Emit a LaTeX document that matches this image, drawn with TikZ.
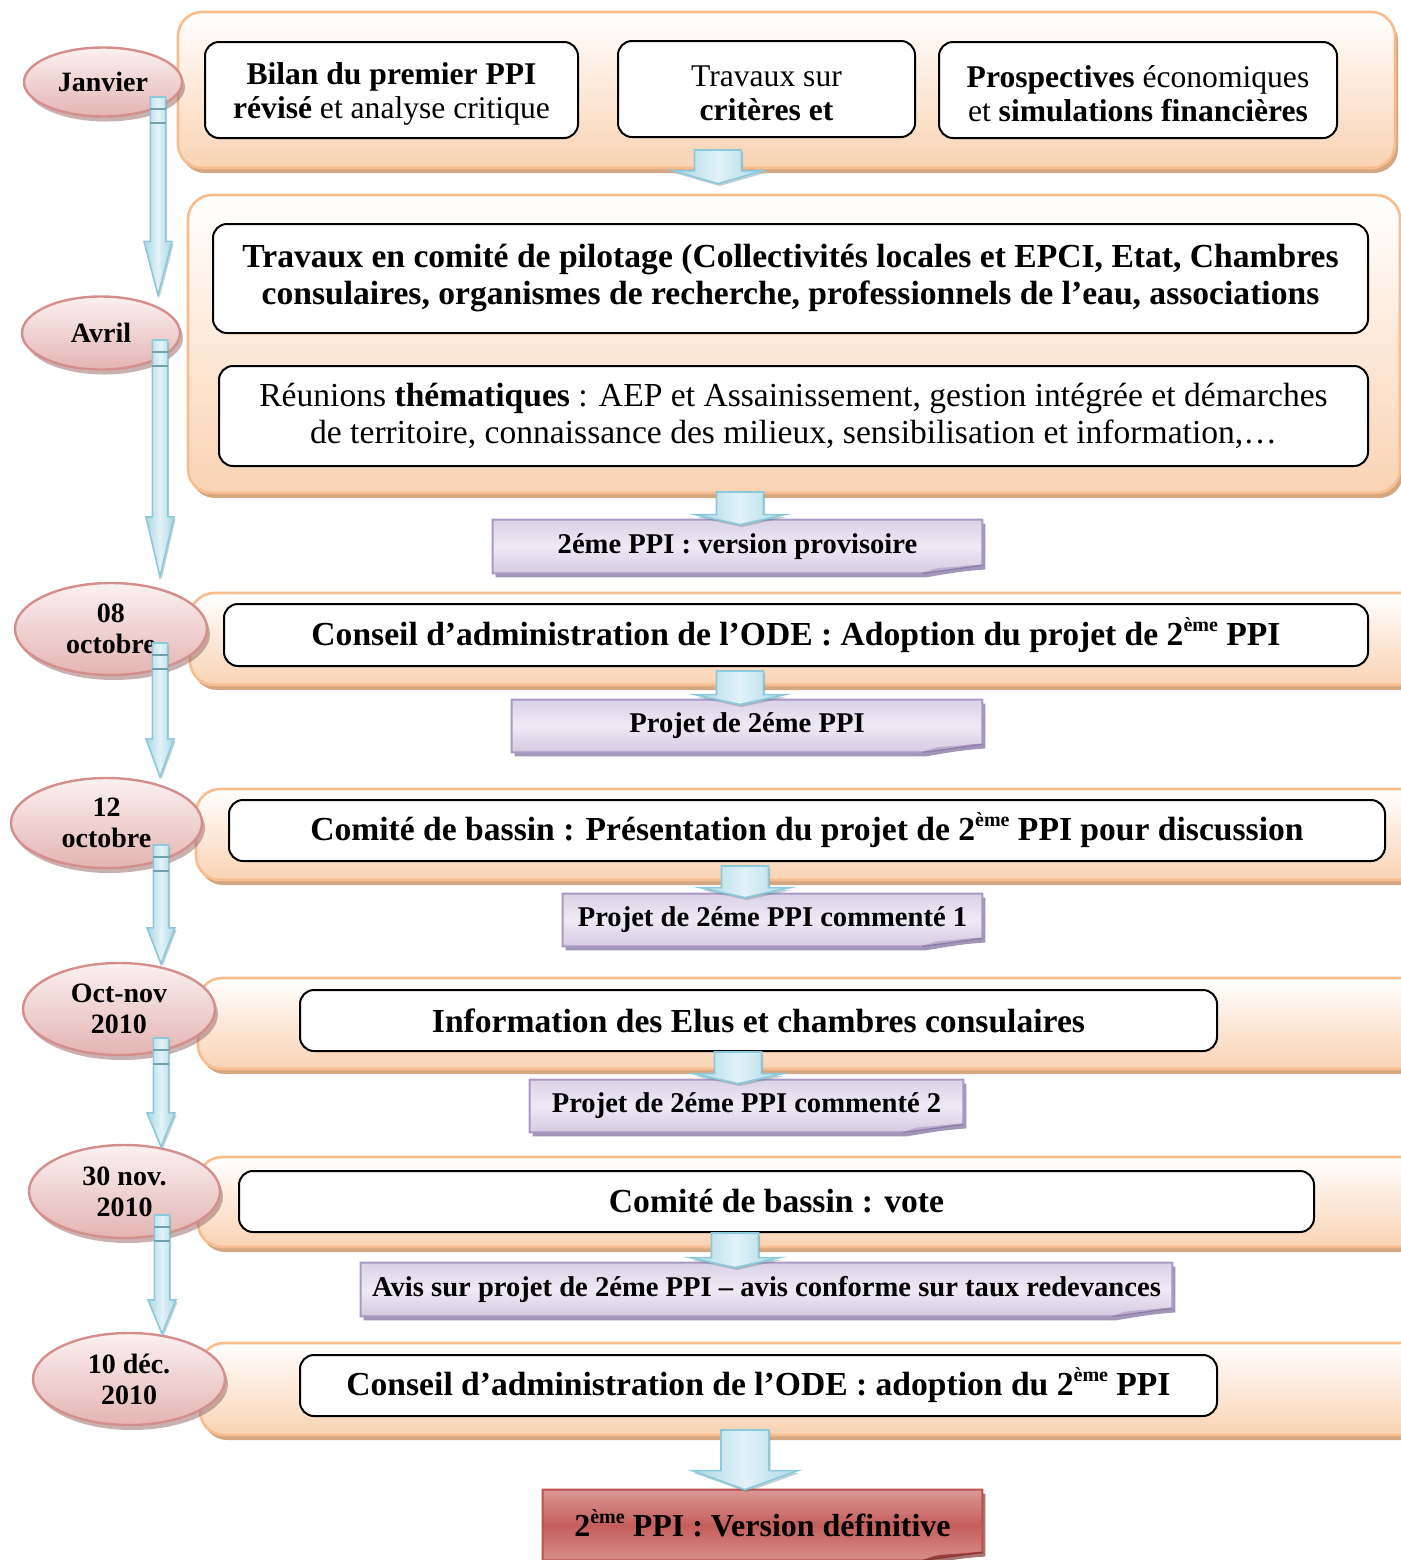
\documentclass[tikz,border=0pt]{standalone}
\usepackage{fontspec}
\setmainfont{Liberation Serif}
\usetikzlibrary{shadows,calc,shapes.geometric}
\pgfdeclarelayer{back}\pgfdeclarelayer{front}
\pgfsetlayers{back,main,front}
\definecolor{orBorder}{HTML}{F8BD8E}
\definecolor{orFill}{HTML}{FAD3B3}
\definecolor{orShadow}{HTML}{D3A782}
\definecolor{ellBorder}{HTML}{D48F8D}
\definecolor{ellTop}{HTML}{FBF1F1}
\definecolor{ellBot}{HTML}{E4B4B3}
\definecolor{purBorder}{HTML}{A999C4}
\definecolor{purTop}{HTML}{DAD2E6}
\definecolor{purMid}{HTML}{EEEAF4}
\definecolor{purBot}{HTML}{D4CAE2}
\definecolor{purShadow}{HTML}{8A7AA6}
\definecolor{redBorder}{HTML}{C0504D}
\definecolor{redTop}{HTML}{DB9896}
\definecolor{redMid}{HTML}{C55E5B}
\definecolor{redBot}{HTML}{D88D8B}
\definecolor{bluBorder}{HTML}{8CC9DA}
\definecolor{bluL}{HTML}{A9D8E5}
\definecolor{bluM}{HTML}{E2F2F7}
\newcommand\blockarrow[5]{%
  \path[bluearrow] let \p1=(#1), \p2=(#2) in
    (\x1-#3,\y1) -- (\x1+#3,\y1) -- (\x1+#3,\y2+#5) -- (\x1+#4,\y2+#5)
    -- (\x1,\y2) -- (\x1-#4,\y2+#5) -- (\x1-#3,\y2+#5) -- cycle;}
\newcommand\longarrow[3]{%
  \blockarrow{#1}{#2}{3.8pt}{7pt}{#3}%
  \draw[bluBorder!80!black,line width=0.6pt] let \p1=(#1) in
    (\x1-3.8pt,\y1-6pt) -- (\x1+3.8pt,\y1-6pt)
    (\x1-3.8pt,\y1-13pt) -- (\x1+3.8pt,\y1-13pt);}
\newcommand\bannershape[4]{%
  \begin{pgfonlayer}{back}
  \path[#2] (#1.north west) -- (#1.north east) -- ($(#1.south east)+(0,4pt)$)
     .. controls ($(#1.south east)+(-12pt,3pt)$) .. ($(#1.south east)+(-30pt,0)$)
     -- (#1.south west) -- cycle;
  \path[fill=#3] ($(#1.south east)+(0,4pt)$) -- ($(#1.south east)+(-30pt,0)$)
     .. controls ($(#1.south east)+(-24pt,2.5pt)$) .. ($(#1.south east)+(-18pt,3pt)$) -- cycle;
  \path[draw=#4,line width=0.6pt] ($(#1.south east)+(0,4pt)$) -- ($(#1.south east)+(-30pt,0)$);
  \end{pgfonlayer}}
\newcommand\sups[1]{\raisebox{0.42em}{\fontsize{10}{10}\selectfont #1}}
\begin{document}
\begin{tikzpicture}[x=0.5pt,y=-0.5pt,
  obox/.style={draw=orBorder,line width=1.3pt,rounded corners=12pt,
     top color=white,bottom color=orFill,shading angle=0,
     drop shadow={shadow xshift=1.5pt,shadow yshift=-2.5pt,fill=orShadow,opacity=1},
     inner sep=0pt},
  wbox/.style={draw=black,line width=1pt,fill=white,rounded corners=7pt,
     align=center,inner sep=0pt,font=\fontsize{15.8}{17}\selectfont},
  bigtxt/.style={font=\bfseries\fontsize{16.8}{18}\selectfont},
  ell/.style={ellipse,draw=ellBorder,line width=1.2pt,top color=ellTop,bottom color=ellBot,
     drop shadow={shadow xshift=1.5pt,shadow yshift=-2.5pt,fill=ellBorder!70!black,opacity=.5},
     align=center,inner sep=0pt,font=\bfseries\fontsize{14}{15.5}\selectfont},
  bantext/.style={inner sep=0pt,align=center,font=\bfseries\fontsize{14.3}{15}\selectfont},
  purban/.style={draw=purBorder,line width=1pt,top color=purTop,bottom color=purBot,middle color=purMid,
     drop shadow={shadow xshift=1.5pt,shadow yshift=-2pt,fill=purShadow,opacity=.8}},
  redban/.style={draw=redBorder,line width=1pt,top color=redTop,bottom color=redBot,middle color=redMid,
     drop shadow={shadow xshift=1.5pt,shadow yshift=-2pt,fill=redBorder!70!black,opacity=.7}},
  bluearrow/.style={draw=bluBorder,line width=0.8pt,left color=bluL,right color=bluL,middle color=bluM,
     drop shadow={shadow xshift=0.8pt,shadow yshift=-1.2pt,fill=bluBorder!60!black,opacity=.35}}]
\useasboundingbox (0,0) rectangle (1401,1560);
\clip (0,0) rectangle (1401,1560);
% orange frames
\node[obox,minimum width=608.5pt,minimum height=78pt] (o1) at (786.5,90) {};
\node[obox,minimum width=606pt,minimum height=149pt] (o2) at (794,344) {};
\node[obox,minimum width=618pt,minimum height=46pt] (o3) at (808,639) {};
\node[obox,minimum width=615pt,minimum height=45.5pt] (o4) at (811,834.5) {};
\node[obox,minimum width=614pt,minimum height=45.5pt] (o5) at (812,1023.5) {};
\node[obox,minimum width=614pt,minimum height=45pt] (o6) at (812,1202) {};
\node[obox,minimum width=613pt,minimum height=46pt] (o7) at (813,1389) {};
% white boxes
\node[wbox,minimum width=186.5pt,minimum height=48pt] (bilan) at (391.5,90) {};
\node[align=center,inner sep=0pt,font=\fontsize{15.8}{17}\selectfont] (bilant) at (391.5,94)
  {\textbf{Bilan du premier PPI}\\\textbf{révisé} et analyse critique};
\node[wbox,minimum width=148.5pt,minimum height=48pt] (trav) at (766.5,89) {};
\node[align=center,inner sep=0pt,font=\fontsize{15.8}{17}\selectfont] (travt) at (766.5,93)
  {Travaux sur\\\textbf{critères et}};
\node[wbox,minimum width=199pt,minimum height=48pt] (prosp) at (1138,90) {};
\node[align=center,inner sep=0pt,font=\fontsize{15.8}{17}\selectfont] (prospt) at (1138,94)
  {\textbf{Prospectives} économiques\\et \textbf{simulations financières}};
\node[wbox,minimum width=577.5pt,minimum height=54.5pt,font=\bfseries\fontsize{16.8}{18.5}\selectfont] (comite) at (790.5,278.5)
  {Travaux en comité de pilotage (Collectivités locales et EPCI, Etat, Chambres\\consulaires, organismes de recherche, professionnels de l’eau, associations};
\node[wbox,minimum width=574.5pt,minimum height=50pt,font=\fontsize{16.8}{18.5}\selectfont] (reun) at (793.5,416)
  {Réunions \textbf{thématiques} : AEP et Assainissement, gestion intégrée et démarches\\de territoire, connaissance des milieux, sensibilisation et information,…};
\node[wbox,bigtxt,minimum width=572pt,minimum height=31pt] (c08) at (796,635)
  {Conseil d’administration de l’ODE : Adoption du projet de 2\sups{ème} PPI};
\node[wbox,bigtxt,minimum width=578pt,minimum height=30.5pt] (c12) at (807,830.5)
  {Comité de bassin : Présentation du projet de 2\sups{ème} PPI pour discussion};
\node[wbox,bigtxt,minimum width=458.5pt,minimum height=30.5pt] (info) at (758.5,1020.5)
  {Information des Elus et chambres consulaires};
\node[wbox,bigtxt,minimum width=537.5pt,minimum height=30.5pt] (vote) at (776.5,1201.5)
  {Comité de bassin : vote};
\node[wbox,bigtxt,minimum width=458.5pt,minimum height=30.5pt] (c10) at (758.5,1385.5)
  {Conseil d’administration de l’ODE : adoption du 2\sups{ème} PPI};
% ellipses
\node[ell,minimum width=79pt,minimum height=34.5pt] (e1) at (103,82) {Janvier};
\node[ell,minimum width=79pt,minimum height=36.5pt] (e2) at (101,333) {Avril};
\node[ell,minimum width=96pt,minimum height=46pt] (e3) at (111,629) {08\\octobre};
\node[ell,minimum width=95.5pt,minimum height=45pt] (e4) at (106.5,823) {12\\octobre};
\node[ell,minimum width=96pt,minimum height=46pt] (e5) at (119,1009) {Oct-nov\\2010};
\node[ell,minimum width=95.5pt,minimum height=46.5pt] (e6) at (124.5,1191.5) {30 nov.\\2010};
\node[ell,minimum width=96pt,minimum height=46pt] (e7) at (129,1379) {10 déc.\\2010};
% banners
\node[bantext,minimum width=244.5pt,minimum height=26.5pt] (b1) at (737.5,546.5) {\raisebox{2.5pt}{2éme PPI : version provisoire}};
\node[bantext,minimum width=235pt,minimum height=26pt] (b2) at (747,726) {\raisebox{2.5pt}{Projet de 2éme PPI}};
\node[bantext,minimum width=209.5pt,minimum height=26pt] (b3) at (772.5,920) {\raisebox{2.5pt}{Projet de 2éme PPI commenté 1}};
\node[bantext,minimum width=216.5pt,minimum height=26pt] (b4) at (746.5,1106) {\raisebox{2.5pt}{Projet de 2éme PPI commenté 2}};
\node[bantext,minimum width=405.5pt,minimum height=26.5pt] (b5) at (766.5,1289.5) {\raisebox{2.5pt}{Avis sur projet de 2éme PPI – avis conforme sur taux redevances}};
\node[bantext,minimum width=219.5pt,minimum height=35pt,font=\bfseries\fontsize{16}{19}\selectfont] (fin) at (762.5,1525) {\raisebox{2pt}{2\sups{ème} PPI : Version définitive}};
\bannershape{b1}{purban}{purBorder!80}{purShadow}
\bannershape{b2}{purban}{purBorder!80}{purShadow}
\bannershape{b3}{purban}{purBorder!80}{purShadow}
\bannershape{b4}{purban}{purBorder!80}{purShadow}
\bannershape{b5}{purban}{purBorder!80}{purShadow}
\bannershape{fin}{redban}{redBorder!80!black}{redBorder!70!black}
% connectors
\begin{pgfonlayer}{front}
\coordinate (l1) at (158,97);
\coordinate (l2) at (160,340);
\coordinate (l3) at (160,643);
\coordinate (l4) at (161,845);
\coordinate (l5) at (161,1038);
\coordinate (l6) at (162,1215);
\longarrow{l1}{l1 |- e2.north}{27pt}
\longarrow{l2}{$(l2 |- e3.north)+(0,-5)$}{30pt}
\longarrow{l3}{l3 |- e4.north}{19pt}
\longarrow{l4}{$(l4 |- e5.north)+(0,2)$}{18pt}
\longarrow{l5}{$(l5 |- e6.north)+(0,3)$}{17pt}
\longarrow{l6}{$(l6 |- e7.north)+(0,2)$}{17pt}
\coordinate (s1) at (718,150);
\coordinate (s2) at (740,492);
\coordinate (s3) at (740,671);
\coordinate (s4) at (745,866);
\coordinate (s5) at (738,1052);
\coordinate (s6) at (735,1233);
\coordinate (s7) at (745,1430);
\blockarrow{s1}{$(s1 |- o2.north)+(0,-10)$}{11.75pt}{22.5pt}{6.5pt}
\blockarrow{s2}{$(s2 |- b1.north)+(0,5)$}{11.75pt}{22.5pt}{5pt}
\blockarrow{s3}{$(s3 |- b2.north)+(0,5)$}{11.75pt}{22.5pt}{5pt}
\blockarrow{s4}{$(s4 |- b3.north)+(0,4)$}{11.75pt}{22.5pt}{5pt}
\blockarrow{s5}{$(s5 |- b4.north)+(0,4)$}{11.75pt}{22.5pt}{5pt}
\blockarrow{s6}{$(s6 |- b5.north)+(0,5)$}{11.75pt}{22.5pt}{5pt}
\blockarrow{s7}{$(s7 |- fin.north)+(0,0)$}{12pt}{26.5pt}{9.5pt}
\end{pgfonlayer}
\end{tikzpicture}
\end{document}
